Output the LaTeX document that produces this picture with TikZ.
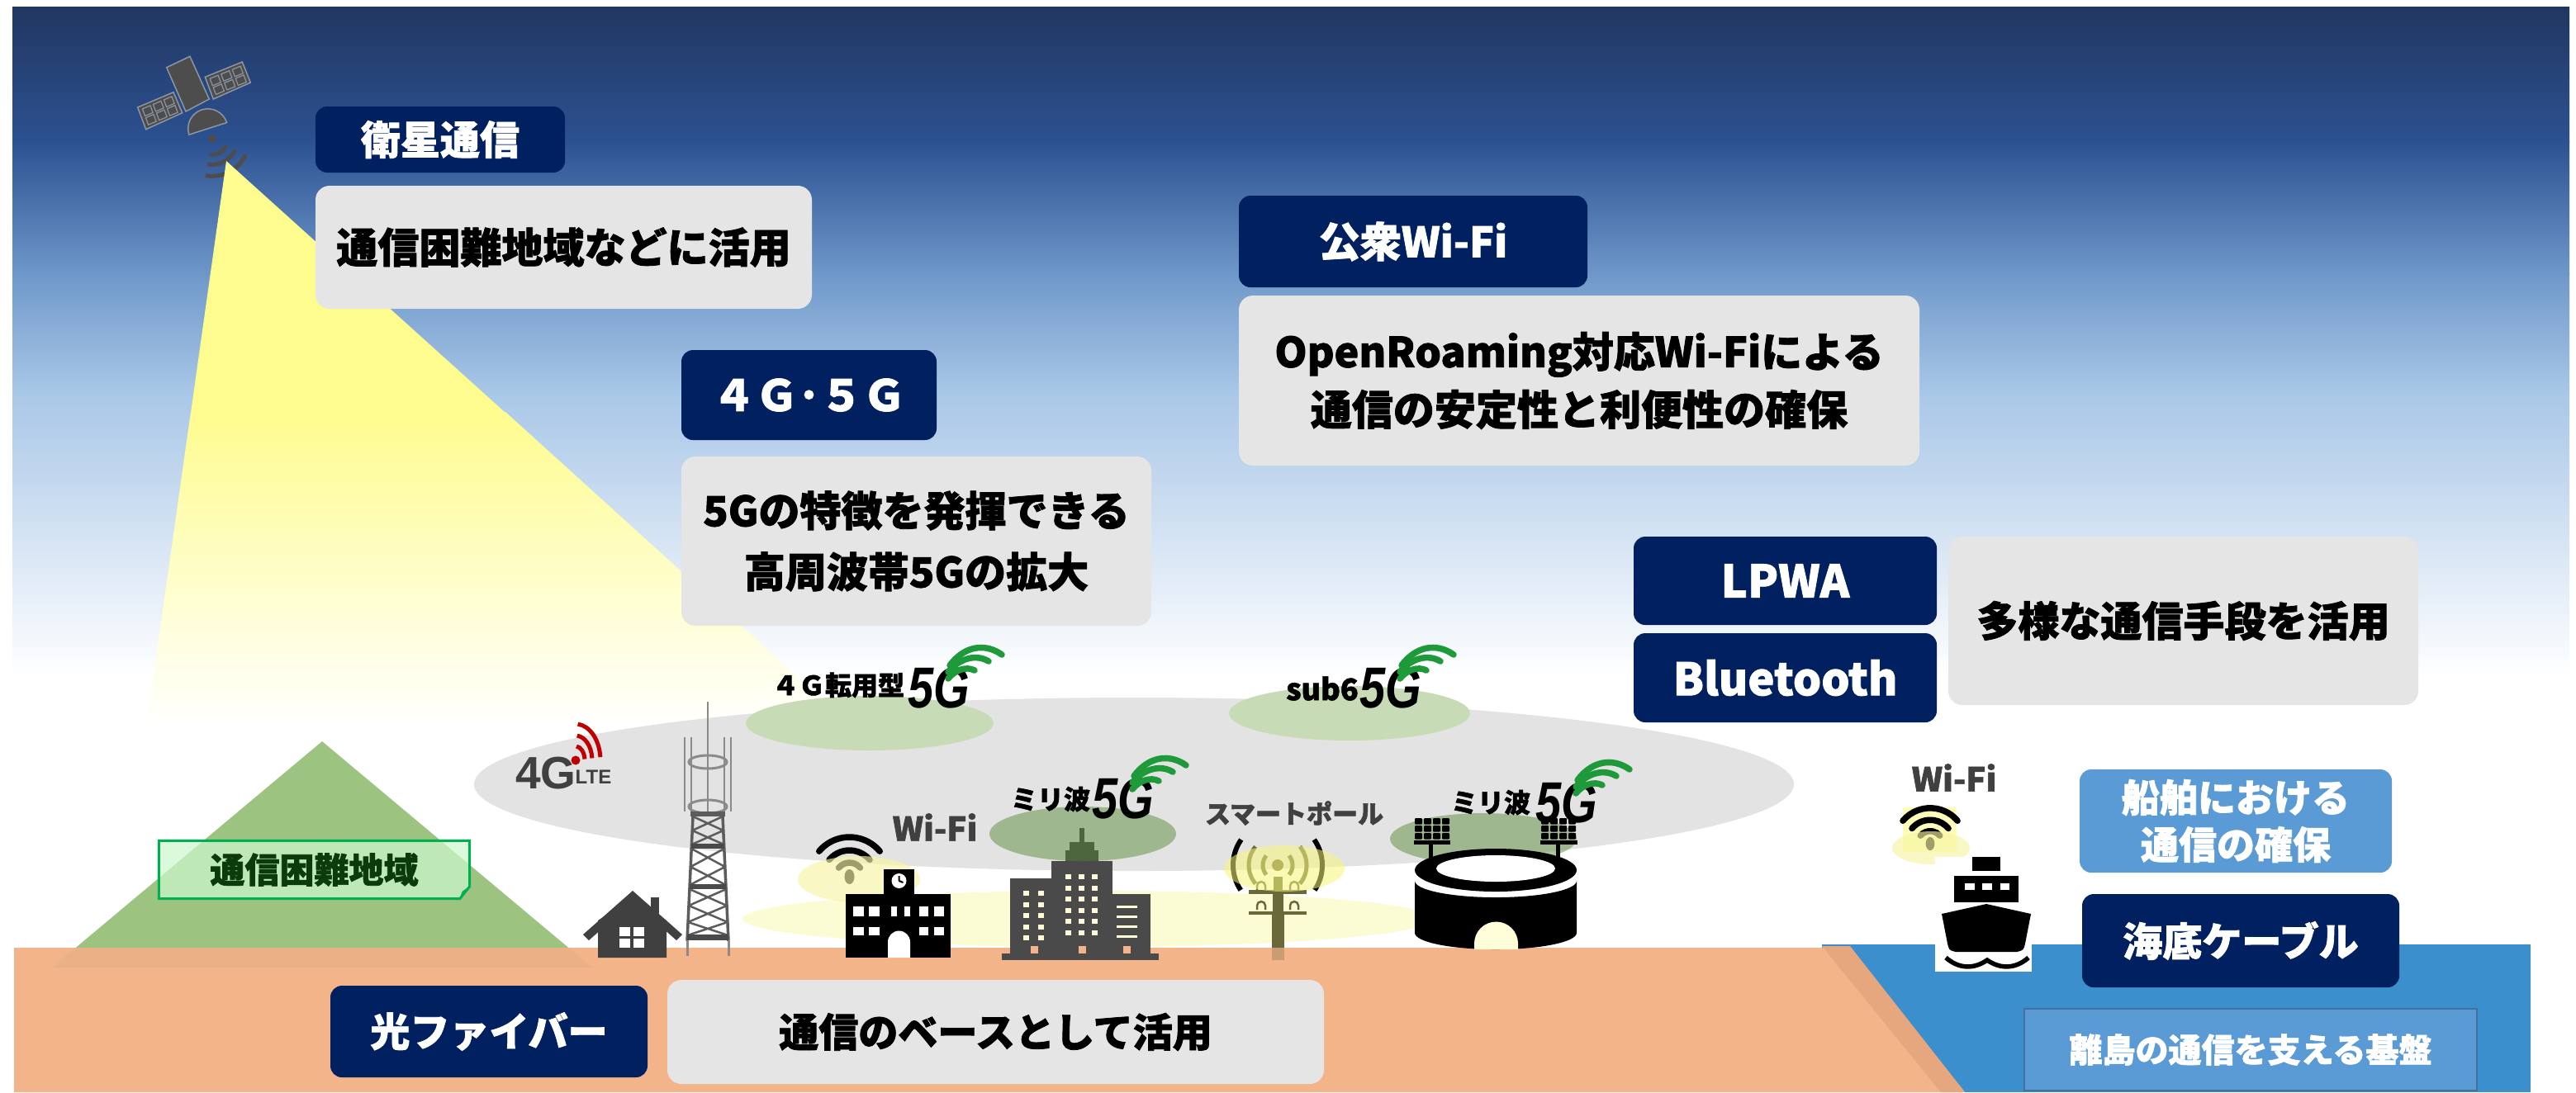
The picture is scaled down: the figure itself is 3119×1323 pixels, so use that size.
\documentclass[tikz,border=0pt]{standalone}
\usepackage{fontspec}
\setmainfont{Noto Sans CJK JP}[BoldFeatures={FakeBold=1.6}]
\newfontfamily\fivegfont{Liberation Sans}[FakeStretch=0.8]
\newfontfamily\logofont{Liberation Sans}
\usetikzlibrary{calc}
% font size given in picture units (1 unit = 0.01cm)
\newcommand\fsz[1]{\fontsize{\fpeval{#1*0.284528}}{\fpeval{#1*0.284528*1.2}}\selectfont}
\newcommand\fszl[2]{\fontsize{\fpeval{#1*0.284528}}{\fpeval{#2*0.284528}}\selectfont}

\definecolor{navy}{HTML}{012060}
\definecolor{boxgray}{HTML}{E5E5E5}
\definecolor{midblue}{HTML}{5B9BD5}
\definecolor{midblueedge}{HTML}{41719C}
\definecolor{sea}{HTML}{3C8FCD}
\definecolor{ground}{HTML}{F3B48A}
\definecolor{groundshade}{HTML}{E6A67E}
\definecolor{mountain}{HTML}{9DC381}
\definecolor{mountainfoot}{HTML}{EAB086}
\definecolor{hardfill}{HTML}{CDF8CD}
\definecolor{hardedge}{HTML}{00B050}
\definecolor{hardtext}{HTML}{0B3B0B}
\definecolor{sky0}{HTML}{213762}
\definecolor{sky1}{HTML}{2C5191}
\definecolor{sky2}{HTML}{6E97C9}
\definecolor{sky3}{HTML}{A7C6E7}
\definecolor{beamy}{HTML}{FEFC8E}
\definecolor{satgray}{HTML}{4D4D4D}
\definecolor{satedge}{HTML}{8C95A3}
\definecolor{cover}{HTML}{E3E3E3}
\definecolor{cellgreen}{HTML}{C8DBB7}
\definecolor{mmgreen}{HTML}{538631}
\definecolor{wifiyellow}{HTML}{FCFCD4}
\definecolor{glow}{HTML}{F7F4A4}
\definecolor{poleglow}{HTML}{F8F67A}
\definecolor{icongray}{HTML}{404040}
\definecolor{towergray}{HTML}{5C5C5C}
\definecolor{towerlight}{HTML}{8A8A8A}
\definecolor{bldgray}{HTML}{4A4A4A}
\definecolor{winyellow}{HTML}{FEFDD8}
\definecolor{olive}{HTML}{6A6939}
\definecolor{ltered}{HTML}{C00000}
\definecolor{fivegreen}{HTML}{1E9A3A}
\definecolor{shipsquare}{HTML}{FEFDB8}

\tikzset{
  sz/.style 2 args={minimum width=#1*0.01cm, minimum height=#2*0.01cm},
  titlebox/.style={fill=navy, rounded corners=0.14cm, text=white, inner sep=0pt,
    font=\bfseries\fsz{50}},
  descbox/.style={fill=boxgray, rounded corners=0.17cm, text=black, inner sep=0pt,
    align=center, font=\bfseries\fsz{50}},
  smalllabel/.style={inner sep=0pt, font=\bfseries\fsz{32}, text=black},
  greylabel/.style={inner sep=0pt, font=\bfseries\fsz{40}, text=icongray},
  greenarc/.style={draw=fivegreen, line width=0.075cm, line cap=round},
  fiveg/.pic={
    \node[inner sep=0pt, font=\fivegfont\bfseries\itshape\fsz{70}] (-t) at (0,0) {5G};
    \draw[greenarc] (13,-27) .. controls (30,-50) and (55,-55) .. (76,-40);
    \draw[greenarc] (11,-19) .. controls (25,-36) and (45,-41) .. (60,-32);
    \draw[greenarc] (11,-11) .. controls (20,-22) and (33,-26) .. (43,-21);
  },
  wifi/.pic={
    \fill (0,0) ellipse[x radius=6, y radius=9];
    \foreach \r in {17,32,48}
      \draw[line width=0.075cm, line cap=round] (-140:\r) arc[start angle=-140, end angle=-40, radius=\r];
  },
}

\begin{document}
\begin{tikzpicture}[x=0.01cm, y=-0.01cm]
\useasboundingbox (0,0) rectangle (3119,1323);
\fill[white] (0,0) rectangle (3119,1323);

% ---------- sky ----------
\shade[top color=sky0, bottom color=sky1] (15,8) rectangle (3111,172);
\shade[top color=sky1, bottom color=sky2] (15,170) rectangle (3111,332);
\shade[top color=sky2, bottom color=sky3] (15,330) rectangle (3111,472);
\shade[top color=sky3, bottom color=white] (15,470) rectangle (3111,820);

% ---------- satellite ----------
\begin{scope}[line width=0.015cm]
  \filldraw[fill=satgray, draw=satedge] (201.7,81.7) -- (230,68.3) -- (253.3,120) -- (225,135) -- cycle;
  \filldraw[fill=satgray, draw=satedge] (166.7,130) -- (210,111.7) -- (220.7,136.7) -- (176.7,156.7) -- cycle;
  \filldraw[fill=satgray, draw=satedge] (248.3,93.3) -- (293.3,75) -- (303.3,100) -- (258.3,120) -- cycle;
  \foreach \a in {0.1,0.4,0.7} \foreach \b in {0.14,0.54} {
    \draw[satedge, line width=0.012cm] ($(166.7,130)+\a*(43.3,-18.3)+\b*(10,26.7)$)
      -- ++($0.22*(43.3,-18.3)$) -- ++($0.32*(10,26.7)$) -- ++($-0.22*(43.3,-18.3)$) -- cycle;
    \draw[satedge, line width=0.012cm] ($(248.3,93.3)+\a*(45,-18.3)+\b*(10,26.7)$)
      -- ++($0.22*(45,-18.3)$) -- ++($0.32*(10,26.7)$) -- ++($-0.22*(45,-18.3)$) -- cycle;
  }
  \filldraw[fill=satgray, draw=satedge] (251.7,155.8) ++(-17.8:24)
    arc[start angle=-17.8, end angle=-197.8, radius=24] -- cycle;
\end{scope}
\fill[satgray] (256.7,168.3) circle[radius=5];
\foreach \r in {19,31,45}
  \draw[satgray, line width=0.05cm] (256.7,168.3) ++(25:\r) arc[start angle=25, end angle=100, radius=\r];

% ---------- satellite beam ----------
\fill[beamy] (274,195) -- (231,500) -- (612,500) -- cycle;
\shade[top color=beamy, bottom color=white] (231,499) -- (177,880) -- (1032,880) -- (612,499) -- cycle;

% ---------- sea and ground ----------
\fill[sea] (2206,1144) rectangle (3064,1323);
\fill[mountain] (390,898) -- (717,1172) -- (63,1172) -- cycle;
\fill[ground] (17,1148) -- (2240,1148) -- (2379,1323) -- (17,1323) -- cycle;
\fill[mountainfoot] (91.5,1148) -- (688.5,1148) -- (717,1172) -- (63,1172) -- cycle;
\fill[groundshade] (2206,1146) -- (2240,1146) -- (2379,1323) -- (2350,1323) -- cycle;

% ---------- coverage areas ----------
\fill[cover] (1373,950) ellipse[x radius=799, y radius=105];
\fill[cellgreen] (1053,876) ellipse[x radius=150, y radius=33];
\fill[cellgreen] (1634,864) ellipse[x radius=146, y radius=33];
\fill[wifiyellow] (1318,1113) ellipse[x radius=419, y radius=34];

% ---------- text boxes ----------
\node[titlebox, sz={302}{80}, font=\bfseries\fsz{48}] (satT) at (533,169) {衛星通信};
\node[descbox, sz={601}{149}] (satD) at (682.5,299.5) {通信困難地域などに活用};
\node[titlebox, sz={309}{109}, font=\bfseries\fsz{52}] (mobT) at (979.5,478.5) {４Ｇ･５Ｇ};
\node[descbox, sz={569}{205}, font=\bfseries\fszl{50}{74}] (mobD) at (1109.5,655.5)
  {5Gの特徴を発揮できる\\高周波帯5Gの拡大};
\node[titlebox, sz={422}{111}] (wifiT) at (1711,292.5) {公衆Wi-Fi};
\node[descbox, sz={824}{206}, font=\bfseries\fszl{50}{70}] (wifiD) at (1912,461)
  {OpenRoaming対応Wi-Fiによる\\通信の安定性と利便性の確保};
\node[titlebox, sz={367}{107}, font=\bfseries\fsz{54}] (lpwa) at (2161.5,703.5) {LPWA};
\node[titlebox, sz={367}{108}, font=\bfseries\fsz{54}] (bt) at (2161.5,821) {Bluetooth};
\node[descbox, sz={569}{204}] (multi) at (2643.5,752) {多様な通信手段を活用};
\node[titlebox, sz={384}{111}, font=\bfseries\fsz{48}] (fiber) at (592,1249.5) {光ファイバー};
\node[descbox, sz={795}{126}, font=\bfseries\fsz{48}] (fiberD) at (1205.5,1250) {通信のベースとして活用};
\node[titlebox, sz={378}{125}, fill=midblue, font=\bfseries\fszl{46}{57}, align=center]
  (shipT) at (2707,994.5) {船舶における\\通信の確保};
\node[titlebox, sz={384}{113}, font=\bfseries\fsz{48}] (cable) at (2713,1139.5) {海底ケーブル};
\node[sz={548}{99}, fill=midblue, draw=midblueedge, line width=0.025cm, text=white,
  inner sep=0pt, font=\bfseries\fsz{40}] (island) at (2725,1271.5) {離島の通信を支える基盤};

% ---------- hard-to-reach area label ----------
\node[sz={375}{69}, inner sep=0pt] (hard) at (380.5,1053.5) {};
\fill[hardfill, fill opacity=0.7] (hard.north west) -- (hard.north east) -- ($(hard.south east)+(0,-15)$)
  -- ($(hard.south east)+(-12,0)$) -- (hard.south west) -- cycle;
\draw[hardedge, line width=0.03cm] (hard.north west) -- (hard.north east) -- ($(hard.south east)+(0,-15)$)
  -- ($(hard.south east)+(-12,0)$) -- (hard.south west) -- cycle;
\fill[hardedge] ($(hard.south east)+(0,-15)$) -- ($(hard.south east)+(-12,0)$) -- ($(hard.south east)+(-9,-9)$) -- cycle;
\node[inner sep=0pt, text=hardtext, font=\bfseries\fsz{42}] (hardL) at (hard.center) {通信困難地域};

% ---------- house ----------
\fill[icongray] (724,1115) -- (766,1088) -- (807,1115) -- (807,1160) -- (724,1160) -- cycle;
\fill[icongray] (766,1079) -- (826,1132) -- (819,1139) -- (766,1092) -- (713,1139) -- (706,1132) -- cycle;
\fill[icongray] (788,1087) rectangle (798,1110);
\foreach \x in {750,767} \foreach \y in {1123,1137}
  \fill[white] (\x,\y) rectangle ++(13,11);

% ---------- tower ----------
\draw[towerlight, line width=0.025cm] (857,850) -- (857,985);
\foreach \x in {829,837,877,885}
  \draw[towerlight, line width=0.015cm] (\x,893) -- (\x,983);
\draw[towerlight, line width=0.03cm] (857,923) ellipse[x radius=23, y radius=8];
\draw[towerlight, line width=0.03cm] (857,977) ellipse[x radius=23, y radius=8];
\fill[towergray] (836,983) rectangle (878,989);
\draw[towergray, line width=0.035cm] (839,989) -- (832,1140) (875,989) -- (882,1140);
\foreach \ya/\yb in {989/1006,1006/1023,1028/1050,1050/1072,1077/1097,1097/1117,1117/1133}
  \draw[towergray, line width=0.025cm]
    ({839-7*(\ya-989)/151},\ya) -- ({875+7*(\yb-989)/151},\yb)
    ({875+7*(\ya-989)/151},\ya) -- ({839-7*(\yb-989)/151},\yb);
\fill[towergray!80!black] (837,1022) rectangle (877,1028);
\fill[towergray!80!black] (835,1071) rectangle (879,1077);
\fill[towergray!80!black] (832,1132) rectangle (882,1139);
\draw[towerlight, line width=0.03cm] (832,1139) -- (832,1158) (882,1139) -- (882,1158);

% ---------- 4G LTE logo ----------
\node[inner sep=0pt, text=icongray, font=\logofont\bfseries\fsz{55}] (lte4g) at (661,937) {4G};
\node[inner sep=0pt, text=icongray, font=\logofont\bfseries\fsz{24}, anchor=south west] (lteL) at (696,950) {LTE};
\fill[ltered] (697,921) circle[radius=5.5];
\foreach \ry/\rx in {17/11,30/20,44/30}
  \draw[ltered, line width=0.05cm] (697,921) ++({-85}:{\rx} and {\ry})
    arc[start angle=-85, end angle=-5, x radius=\rx, y radius=\ry];

% ---------- school with Wi-Fi ----------
\pic[black] (schoolwifi) at (1028.5,1062) {wifi};
\fill[glow, fill opacity=0.65] (1040,1065) ellipse[x radius=74, y radius=28];
\fill[black] (1070,1053) rectangle (1107,1085);
\fill[black] (1024,1083) rectangle (1151,1160);
\fill[white] (1088.5,1067) circle[radius=9];
\draw[black, line width=0.02cm] (1088.5,1067) -- ++(0,-6) (1088.5,1067) -- ++(5,2);
\foreach \xa/\xb in {1033/1046,1052/1065,1079/1086,1095/1102,1113/1124,1131/1143}
  \fill[white] (\xa,1098) rectangle (\xb,1110);
\foreach \xa/\xb in {1033/1046,1052/1065,1113/1124,1131/1143}
  \fill[white] (\xa,1123) rectangle (\xb,1133);
\fill[white] (1075,1160) -- (1075,1141) arc[start angle=180, end angle=360, radius=13.5] -- (1102,1160) -- cycle;

% ---------- office building ----------
\fill[bldgray] (1307,1003) rectangle (1313,1022);
\fill[bldgray] (1295,1020) rectangle (1325,1032);
\fill[bldgray] (1290,1030) rectangle (1330,1044);
\fill[bldgray] (1273,1043) rectangle (1347,1156);
\fill[bldgray] (1223,1064) rectangle (1274,1156);
\fill[bldgray] (1346,1083) rectangle (1393,1156);
\fill[bldgray] (1213,1155) rectangle (1403,1163);
\foreach \x in {1290,1306,1322} \foreach \y in {1059,1072.5,1086,1099.5,1113,1126.5}
  \fill[winyellow] (\x,\y) rectangle ++(7,6);
\foreach \x in {1239,1257} \foreach \y in {1079,1092.5,1106,1119.5,1133}
  \fill[winyellow] (\x,\y) rectangle ++(7,6);
\foreach \y in {1097,1109,1121,1133}
  \fill[winyellow] (1352,\y) rectangle ++(25,3);
\foreach \x in {1248,1306,1360}
  \fill[ground] (\x,1146) rectangle ++(9,9);
\fill[mmgreen, fill opacity=0.47] (1311,1010) ellipse[x radius=113, y radius=33];

% ---------- smart pole ----------
\draw[black, line width=0.06cm] (1547,1048) ++(146:54) arc[start angle=146, end angle=215, radius=54];
\draw[black, line width=0.06cm] (1547,1048) ++(-35:54) arc[start angle=-35, end angle=34, radius=54];
\foreach \r in {18,35} {
  \draw[olive, line width=0.05cm] (1547,1048) ++(140:\r) arc[start angle=140, end angle=220, radius=\r];
  \draw[olive, line width=0.05cm] (1547,1048) ++(-40:\r) arc[start angle=-40, end angle=40, radius=\r];
}
\fill[olive] (1547,1048) circle[radius=7];
\fill[olive] (1542,1062) rectangle (1553,1078);
\fill[olive] (1512,1078) rectangle (1582,1083);
\fill[olive] (1541,1083) rectangle (1554,1104);
\fill[olive] (1512,1104) rectangle (1582,1108);
\fill[olive] (1540,1108) rectangle (1555,1148);
\fill[olive, fill opacity=0.3] (1540,1148) rectangle (1555,1163);
\foreach \x in {1527,1567} \foreach \y in {1078,1102}
  \draw[olive, line width=0.025cm] (\x-5,\y) -- (\x-5,\y-5) arc[start angle=180, end angle=360, radius=5] -- (\x+5,\y);
\fill[poleglow, fill opacity=0.55] (1555,1052) ellipse[x radius=73, y radius=28];

% ---------- stadium ----------
\fill[mmgreen, fill opacity=0.47] (1796,1016) ellipse[x radius=113, y radius=31];
\foreach \x in {1713,1724,1735,1746,1866,1877,1888,1899} \foreach \y in {991,1000,1009}
  \fill[black, rounded corners=0.01cm] (\x,\y) rectangle ++(9,7.5);
\fill[black] (1712,1018) rectangle (1756,1023);
\fill[black] (1865,1018) rectangle (1910,1023);
\fill[black] (1730,1023) rectangle (1735,1042);
\fill[black] (1884,1023) rectangle (1889,1042);
\fill[black] (1811,1054) ellipse[x radius=98, y radius=26];
\fill[white] (1811,1052) ellipse[x radius=72, y radius=16];
\fill[black] (1713,1067) -- (1713,1130) arc[start angle=180, end angle=0, x radius=98, y radius=20]
  -- (1909,1067) arc[start angle=0, end angle=180, x radius=98, y radius=20] -- cycle;
\fill[winyellow] (1785,1150) -- (1785,1143) arc[start angle=180, end angle=360, radius=26.5] -- (1838,1150) -- cycle;

% ---------- ship with Wi-Fi ----------
\fill[shipsquare] (2304,978) rectangle (2369,1032);
\pic[black, scale=0.9] (shipwifi) at (2337,1022) {wifi};
\fill[glow, fill opacity=0.65] (2338,1027) ellipse[x radius=47, y radius=20];
\fill[white] (2343,1038) rectangle (2460,1177);
\fill[black] (2388,1038) rectangle (2422,1055);
\fill[black] (2366,1061) rectangle (2444,1093);
\foreach \xa/\xb in {2379/2391,2400/2412,2422/2433}
  \fill[white] (\xa,1070) rectangle (\xb,1078);
\fill[black] (2351,1107) -- (2405,1095) -- (2459,1107) -- (2452,1143)
  .. controls (2450,1151) .. (2442,1153) -- (2368,1153) .. controls (2360,1151) .. (2358,1143) -- cycle;
\draw[black, line width=0.055cm] (2356,1160) .. controls (2372,1174) and (2390,1174) .. (2406,1163)
  .. controls (2422,1174) and (2440,1174) .. (2456,1160);

% ---------- small labels ----------
\node[greylabel] (wifiL) at (1132,1002) {Wi-Fi};
\node[greylabel] (shipWifiL) at (2366,942) {Wi-Fi};
\node[inner sep=0pt, text=icongray, font=\bfseries\fsz{31}] (poleL) at (1567,985) {スマートポール};
\node[smalllabel] (g4L) at (1015,830) {４Ｇ転用型};
\node[smalllabel, font=\bfseries\fsz{36}] (sub6L) at (1601,834) {sub6};
\node[smalllabel] (mmL1) at (1272,968) {ミリ波};
\node[smalllabel] (mmL2) at (1805,972) {ミリ波};
\pic (g5a) at (1137,833) {fiveg};
\pic (g5b) at (1684,833) {fiveg};
\pic (g5c) at (1360,967) {fiveg};
\pic (g5d) at (1897,972) {fiveg};
\end{tikzpicture}
\end{document}
